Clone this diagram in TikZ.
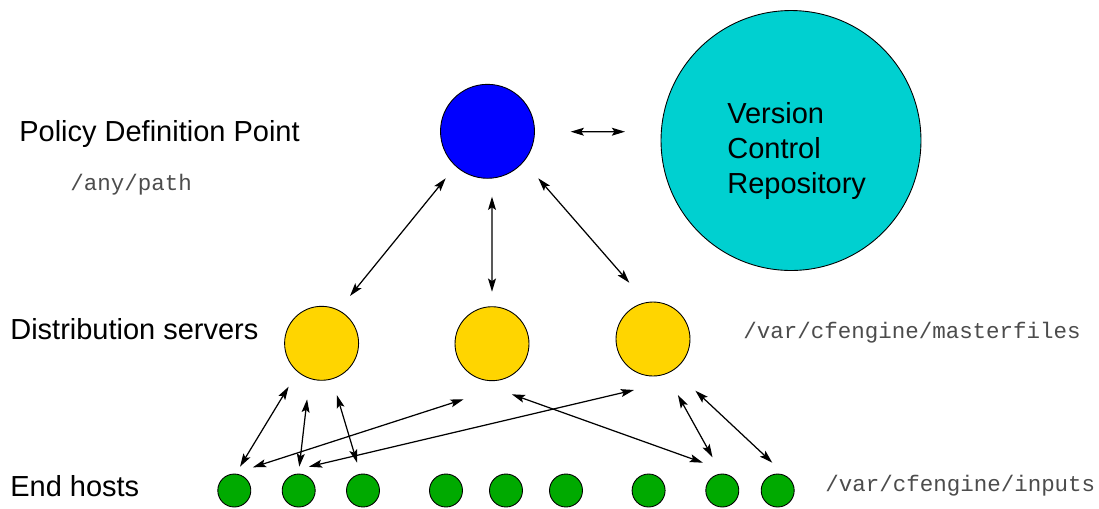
\documentclass[tikz,border=0pt]{standalone}
\usepackage{fontspec}
\setmainfont{Liberation Sans}
\newfontfamily\pathfont{Liberation Mono}
\usetikzlibrary{arrows.meta}

\definecolor{pdpblue}{RGB}{0,0,255}
\definecolor{vcrteal}{RGB}{0,208,208}
\definecolor{dsgold}{RGB}{255,213,0}
\definecolor{hostgreen}{RGB}{0,170,0}

\tikzset{
site/.style={circle, draw=black, line width=0.5pt, inner sep=0pt},
link/.style={{Stealth[length=7.5pt,width=4.5pt,inset=1.5pt]}-{Stealth[length=7.5pt,width=4.5pt,inset=1.5pt]}, line width=0.7pt},
tier/.style={font=\fontsize{16.5}{19.9}\selectfont, anchor=base west, inner sep=0pt},
dirname/.style={font=\pathfont\fontsize{12.8}{15}\selectfont, anchor=base west, inner sep=0pt, text=black!70},
}

\begin{document}
\begin{tikzpicture}[x=0.02cm, y=-0.02cm]
\useasboundingbox (0,0) rectangle (1099,508);

% policy point and repository
\node[site, fill=pdpblue, minimum size=1.88cm] (pdp) at (487.5,131.3) {};
\node[site, fill=vcrteal, minimum size=5.2cm] (vcr) at (791,140.5) {};
\node[tier, align=left] (vcrlabel) at (727,193) {Version\\Control\\Repository};

% distribution servers
\node[site, fill=dsgold, minimum size=1.48cm] (ds1) at (321.6,343.3) {};
\node[site, fill=dsgold, minimum size=1.48cm] (ds2) at (492,343.7) {};
\node[site, fill=dsgold, minimum size=1.48cm] (ds3) at (653,339) {};

% end hosts
\foreach \x [count=\i] in {234.3,298.7,363,446,506,566,648.6,722.3,777.7}
\node[site, fill=hostgreen, minimum size=0.66cm] (h\i) at (\x,490.5) {};

% tier labels
\node[tier] (pdplabel) at (19,141.7) {Policy Definition Point};
\node[dirname] (pdppath) at (70,190) {/any/path};
\node[tier] (dslabel) at (10,339.3) {Distribution servers};
\node[dirname] (dspath) at (743,338.3) {/var/cfengine/masterfiles};
\node[tier] (hostlabel) at (10,496) {End hosts};
\node[dirname] (hostpath) at (825,491.7) {/var/cfengine/inputs};

% links
\draw[link] ([shift={(83.2,0.4)}]pdp.center) -- ([shift={(-166,-8.8)}]vcr.center);
\draw[link] ([shift={(-41.8,47)}]pdp.center) -- ([shift={(28.4,-47.3)}]ds1.center);
\draw[link] ([shift={(4.5,65.4)}]pdp.center) -- ([shift={(0,-52)}]ds2.center);
\draw[link] ([shift={(50.8,47)}]pdp.center) -- ([shift={(-23.7,-56.3)}]ds3.center);

\draw[link] ([shift={(-33,43.4)}]ds1.center) -- ([shift={(5.7,-23.8)}]h1.center);
\draw[link] ([shift={(-14.5,56)}]ds1.center) -- ([shift={(0.6,-23.8)}]h2.center);
\draw[link] ([shift={(15.2,51.7)}]ds1.center) -- ([shift={(-5.9,-27.8)}]h3.center);
\draw[link] ([shift={(18.6,-23.2)}]h1.center) -- ([shift={(-28.4,55.6)}]ds2.center);
\draw[link] ([shift={(10.2,-23.8)}]h2.center) -- ([shift={(-19,51)}]ds3.center);
\draw[link] ([shift={(19.8,50.6)}]ds2.center) -- ([shift={(-19.4,-27.8)}]h8.center);
\draw[link] ([shift={(24.9,56)}]ds3.center) -- ([shift={(-9.8,-33.2)}]h8.center);
\draw[link] ([shift={(42.4,51.7)}]ds3.center) -- ([shift={(-5.4,-27.8)}]h9.center);
\end{tikzpicture}
\end{document}
